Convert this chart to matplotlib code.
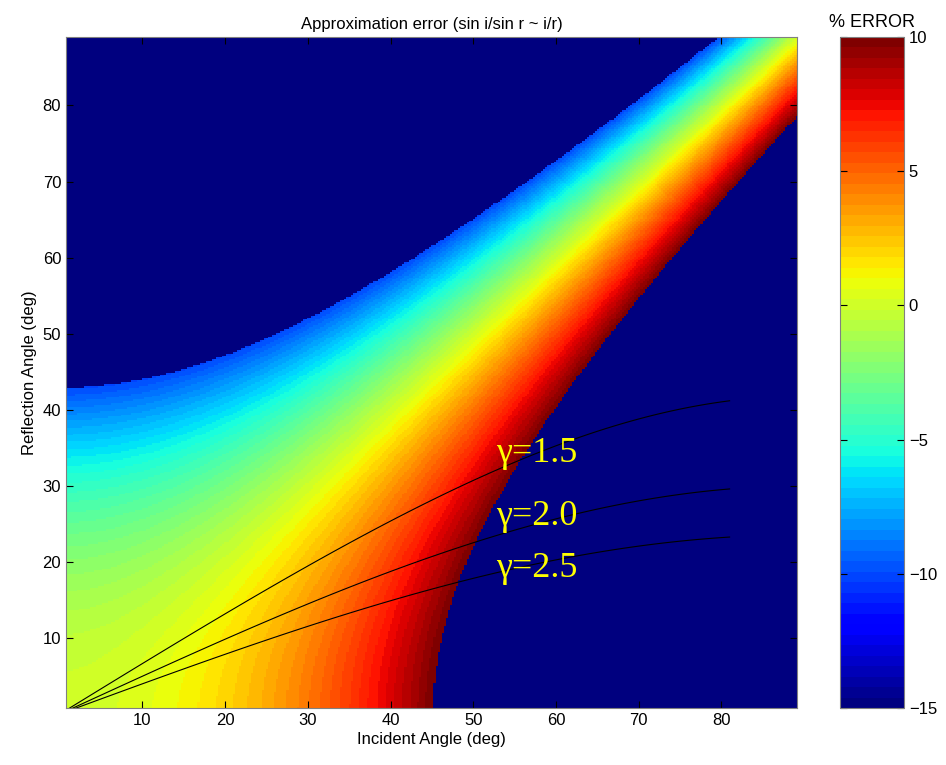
import numpy as np
import matplotlib
matplotlib.use('Agg')
import matplotlib.pyplot as plt

# ---- data ----
# grid of angles (deg) at which the error map was evaluated
incident_deg = np.arange(0.75, 89.26, 0.25)
reflection_deg = np.arange(0.75, 89.26, 0.25)
err_limits = [-10, 10]      # values beyond this are blanked (shown dark blue)
clim = [-15, 10]
cbar_ticks = [-15, -10, -5, 0, 5, 10]

# refractive-index curves  sin i / sin r = gamma
gammas = [1.5, 2.0, 2.5]
gamma_labels = ["\u03b3=1.5", "\u03b3=2.0", "\u03b3=2.5"]
gamma_label_pos = [(52.8, 34.3), (52.8, 26.0), (52.8, 19.1)]
curve_incident = np.arange(0.0, 81.01, 1.0)

# ---- compute error map ----
I, R = np.meshgrid(np.radians(incident_deg), np.radians(reflection_deg))
err = (1.0 - (np.sin(I) / np.sin(R)) / (I / R)) * 100.0
err[(err > err_limits[1]) | (err < err_limits[0])] = clim[0] - 1

plt.rcParams['font.family'] = ['Liberation Sans', 'DejaVu Sans']

fig = plt.figure(figsize=(9.46, 7.65), dpi=100)
W, H = 946.0, 765.0
ax = fig.add_axes([66 / W, 1 - 708 / H, (797 - 66) / W, (708 - 37) / H])
cax = fig.add_axes([840 / W, 1 - 708 / H, (904 - 840) / W, (708 - 37) / H])

cmap = plt.get_cmap('jet', 64)
d = 0.125
im = ax.imshow(err, origin='lower', cmap=cmap, vmin=clim[0], vmax=clim[1],
               extent=[incident_deg[0] - d, incident_deg[-1] + d,
                       reflection_deg[0] - d, reflection_deg[-1] + d],
               aspect='auto', interpolation='nearest')

for g in gammas:
    r = np.degrees(np.arcsin(np.sin(np.radians(curve_incident)) / g))
    ax.plot(curve_incident, r, color='black', linewidth=0.8)

for lab, (x, y) in zip(gamma_labels, gamma_label_pos):
    ax.text(x, y, lab, color='#ffff00', fontsize=26, va='center', ha='left',
            family=['Liberation Serif', 'DejaVu Serif'])

ax.set_xlim(0.75, 89.15)
ax.set_ylim(0.8, 89.0)
ax.set_xticks(range(10, 81, 10))
ax.set_yticks(range(10, 81, 10))
ax.tick_params(direction='in', top=True, right=True, labelsize=12, length=5)
ax.set_xlabel("Incident Angle (deg)", fontsize=12, labelpad=3)
ax.set_ylabel("Reflection Angle (deg)", fontsize=12, labelpad=4)
ax.set_title("Approximation error (sin i/sin r ~ i/r)", fontsize=12, pad=6)
for s in ax.spines.values():
    s.set_color('#808080')

cb = fig.colorbar(im, cax=cax, ticks=cbar_ticks)
cb.ax.tick_params(direction='in', labelsize=12, length=5, left=True, right=True)
cb.outline.set_edgecolor('#808080')
cax.set_title("% ERROR", fontsize=13, pad=7)

fig.savefig("out.png", dpi=100)
